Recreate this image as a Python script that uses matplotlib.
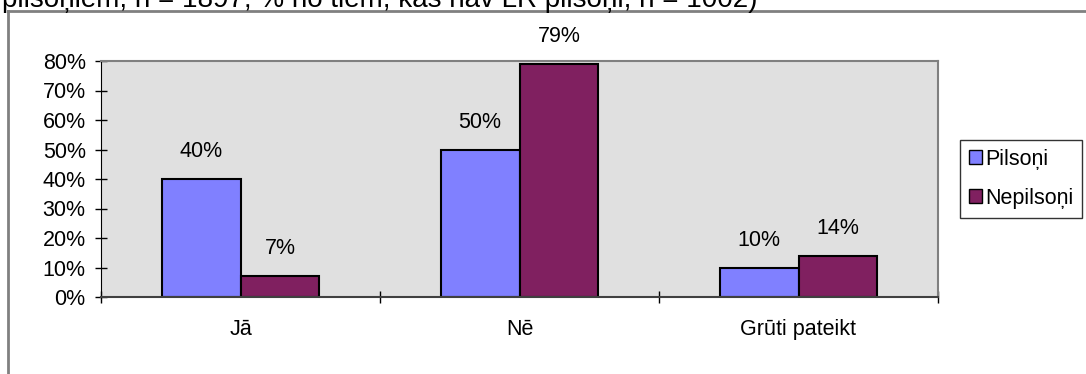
import numpy as np
import matplotlib
matplotlib.use('Agg')
import matplotlib.pyplot as plt
from matplotlib.patches import Rectangle
from matplotlib.lines import Line2D

plt.rcParams['font.family'] = ['Liberation Sans', 'DejaVu Sans']

# Dati
kategorijas = ['Jā', 'Nē', 'Grūti pateikt']
pilsoni = [40, 50, 10]
nepilsoni = [7, 79, 14]
serijas = ['Pilsoņi', 'Nepilsoņi']
y_ticks = [0, 10, 20, 30, 40, 50, 60, 70, 80]
virsraksts = 'pilsoņiem, n = 1897; % no tiem, kas nav LR pilsoņi, n = 1002)'

W, H = 1086, 374
fs = 15.5
fig = plt.figure(figsize=(W / 100, H / 100), dpi=100)

# ārējais rāmis (redzama tikai augša un kreisā mala)
fig.add_artist(Line2D([8 / W, 8 / W], [0, 1 - 11 / H], color='#808080', lw=2))
fig.add_artist(Line2D([8 / W, 1], [1 - 11 / H, 1 - 11 / H], color='#808080', lw=2))

# nogriezts virsraksts (oriģinālā redzama tikai apakšdaļa)
fig.text(2 / W, 1 - 7 / H, virsraksts, fontsize=20, ha='left', va='baseline')

# zīmējuma laukums
x0, x1 = 101, 938
y0, y1 = 61, 297
ax = fig.add_axes([x0 / W, 1 - y1 / H, (x1 - x0) / W, (y1 - y0) / H])
ax.set_facecolor('#e0e0e0')

x = np.arange(len(kategorijas))
bw = 0.283
b1 = ax.bar(x - bw / 2, pilsoni, bw, color='#8080ff', edgecolor='black', lw=1.5)
b2 = ax.bar(x + bw / 2, nepilsoni, bw, color='#802060', edgecolor='black', lw=1.5)

for rects, vals in ((b1, pilsoni), (b2, nepilsoni)):
    for r, v in zip(rects, vals):
        ax.text(r.get_x() + r.get_width() / 2, v + 9.3, f'{v}%',
                ha='center', va='center', fontsize=fs, clip_on=False)

ax.set_xlim(-0.5, 2.5)
ax.set_ylim(0, 80)
ax.set_yticks(y_ticks)
ax.set_yticklabels([f'{t}%' for t in y_ticks], fontsize=fs)
ax.set_xticks([-0.5, 0.5, 1.5, 2.5])
ax.set_xticklabels([])
ax.set_xticks(x, minor=True)
ax.set_xticklabels(kategorijas, minor=True, fontsize=fs)
ax.tick_params(axis='x', which='minor', length=0, pad=16)
ax.tick_params(axis='x', which='major', length=8, direction='inout', width=1)
ax.tick_params(axis='y', length=8, direction='inout', width=1, pad=7)

for s in ('top', 'right'):
    ax.spines[s].set_color('#808080')
    ax.spines[s].set_linewidth(1.5)
ax.spines['left'].set_color('black')
ax.spines['bottom'].set_color('#404040')
ax.spines['bottom'].set_linewidth(1.5)

# leģenda
fig.legend([Rectangle((0, 0), 1, 1, fc='#8080ff', ec='black'),
            Rectangle((0, 0), 1, 1, fc='#802060', ec='black')],
           serijas, loc='upper left', bbox_to_anchor=(960 / W, 1 - 140 / H),
           fontsize=fs, frameon=True, fancybox=False, edgecolor='black',
           handlelength=0.6, handleheight=0.6, handletextpad=0.15,
           borderpad=0.4, borderaxespad=0, labelspacing=0.85)

fig.savefig('out.png', dpi=100)
